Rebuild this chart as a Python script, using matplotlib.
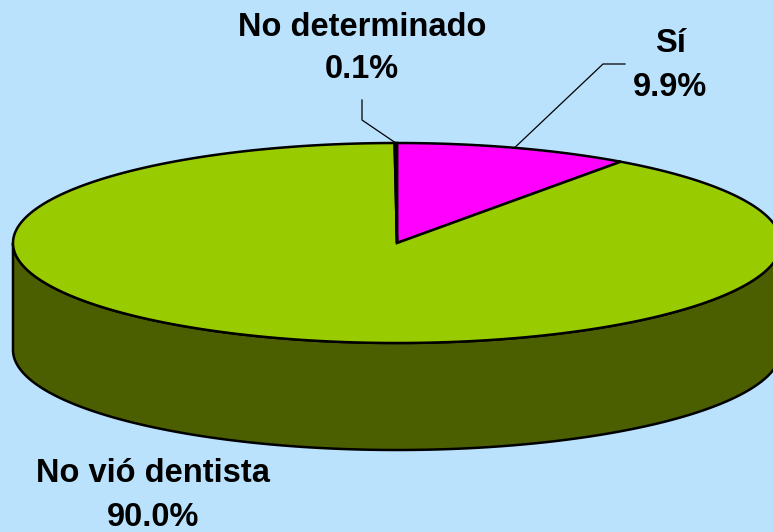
import numpy as np
import matplotlib
matplotlib.use("Agg")
import matplotlib.pyplot as plt
from matplotlib.patches import Polygon

# datos del grafico
categorias = ["Sí", "No vió dentista", "No determinado"]
valores = [9.9, 90.0, 0.1]
colores = ["#FF00FF", "#99CC00", "#FFFF99"]
colores_lado = ["#800080", "#4C5F00", "#808040"]

# geometria de la torta (en pixeles)
cx, cy = 397, 243
rx, ry = 384, 100
prof = 107
fondo = "#BAE2FD"

fig = plt.figure(figsize=(7.73, 5.32), dpi=100)
fig.patch.set_facecolor(fondo)
ax = fig.add_axes([0, 0, 1, 1])
ax.set_xlim(0, 773)
ax.set_ylim(532, 0)
ax.axis("off")
ax.set_facecolor(fondo)


def punto(ang, dy=0):
    a = np.radians(ang)
    return cx + rx * np.cos(a), cy - ry * np.sin(a) + dy


# angulos: empieza arriba (90) y va en sentido horario
total = sum(valores)
inicio = 90.0
tramos = []
for v in valores:
    fin = inicio - 360.0 * v / total
    tramos.append((inicio, fin))
    inicio = fin

# lados (parte delantera, angulos entre 180 y 360)
for (a0, a1), cl in zip(tramos, colores_lado):
    hi, lo = a0, a1
    for k in range(-1, 2):
        s0 = max(lo, 180 + 360 * k)
        s1 = min(hi, 360 + 360 * k)
        if s1 > s0:
            angs = np.linspace(s0, s1, 200)
            arriba = [punto(t) for t in angs]
            abajo = [punto(t, prof) for t in angs[::-1]]
            ax.add_patch(Polygon(arriba + abajo, closed=True, facecolor=cl,
                                 edgecolor="black", lw=1.8, zorder=2))

# tapa superior
for (a0, a1), c in zip(tramos, colores):
    angs = np.linspace(a0, a1, max(int(abs(a0 - a1) * 3), 4))
    pts = [(cx, cy)] + [punto(t) for t in angs]
    ax.add_patch(Polygon(pts, closed=True, facecolor=c, edgecolor="black",
                         lw=1.8, joinstyle="miter", zorder=3))

# etiquetas
fuente = dict(fontsize=23.5, fontweight="bold", family=["Liberation Sans", "DejaVu Sans"],
              ha="center", va="center", color="black", zorder=5)
pos_etq = [(670, 43, 87), (153, 473, 517), (362, 27, 70)]
guias = [[(603, 64), (625, 64)], None, [(362, 120), (362, 100)]]

for i, (nombre, v) in enumerate(zip(categorias, valores)):
    x, y1, y2 = pos_etq[i]
    ax.text(x, y1, nombre, **fuente)
    ax.text(x, y2, f"{v:.1f}%", **fuente)
    if guias[i] is not None:
        a0, a1 = tramos[i]
        p = punto((a0 + a1) / 2)
        xs = [p[0]] + [q[0] for q in guias[i]]
        ys = [p[1]] + [q[1] for q in guias[i]]
        ax.plot(xs, ys, color="black", lw=0.9, zorder=4)

fig.savefig("out.png", dpi=100, facecolor=fondo)
